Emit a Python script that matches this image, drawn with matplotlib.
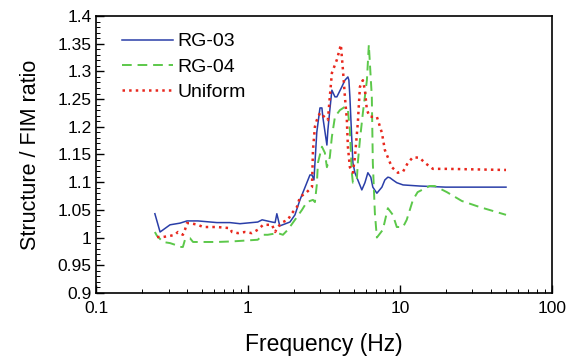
import numpy as np
import matplotlib
matplotlib.use("Agg")
import matplotlib.pyplot as plt
from matplotlib.ticker import MultipleLocator, LogLocator, FixedLocator, FixedFormatter

plt.rcParams['font.family'] = ['Liberation Sans', 'DejaVu Sans']

# RG-03
f_rg03 = [0.244, 0.264, 0.307, 0.357, 0.397, 0.469, 0.625, 0.761, 0.886, 1.06, 1.16, 1.24,
          1.44, 1.51, 1.55, 1.62, 1.89, 2.04, 2.20, 2.37, 2.56, 2.64, 2.72, 2.84, 2.98,
          3.07, 3.11, 3.31, 3.36, 3.46, 3.57, 3.74, 3.85, 4.15, 4.35, 4.55, 4.62, 4.69,
          4.83, 4.91, 5.06, 5.29, 5.62, 5.89, 6.16, 6.44, 6.64, 7.06, 7.62, 7.97, 8.34,
          8.60, 8.99, 9.55, 10.5, 13.5, 20.0, 50.0]
v_rg03 = [1.043, 1.010, 1.023, 1.026, 1.030, 1.030, 1.027, 1.027, 1.025, 1.027, 1.028, 1.032,
          1.028, 1.027, 1.043, 1.021, 1.028, 1.041, 1.068, 1.090, 1.113, 1.113, 1.104, 1.190, 1.234,
          1.234, 1.218, 1.167, 1.194, 1.230, 1.266, 1.254, 1.254, 1.272, 1.284, 1.290, 1.284, 1.254,
          1.176, 1.135, 1.117, 1.104, 1.086, 1.099, 1.117, 1.109, 1.091, 1.080, 1.091, 1.104, 1.109,
          1.108, 1.104, 1.099, 1.095, 1.093, 1.091, 1.091]

# RG-04
f_rg04 = [0.244, 0.252, 0.276, 0.307, 0.331, 0.357, 0.373, 0.385, 0.397, 0.415, 0.435, 0.625,
          0.785, 1.16, 1.26, 1.35, 1.57, 1.70, 1.83, 2.04, 2.27, 2.44, 2.68, 2.76, 2.84,
          2.89, 3.07, 3.21, 3.31, 3.46, 3.57, 3.74, 4.03, 4.35, 4.55, 4.69, 4.83, 4.91,
          5.21, 5.29, 5.46, 5.71, 6.07, 6.25, 6.54, 6.64, 6.85, 7.06, 7.73, 8.34, 8.99,
          9.55, 10.5, 11.1, 12.2, 13.1, 15.7, 17.0, 20.4, 25.6, 33.6, 50.0]
v_rg04 = [1.010, 1.003, 0.992, 0.990, 0.987, 0.983, 0.983, 0.996, 0.999, 0.999, 0.992, 0.992,
          0.993, 0.996, 1.005, 1.005, 1.008, 1.005, 1.014, 1.032, 1.050, 1.064, 1.068, 1.064, 1.095,
          1.135, 1.164, 1.153, 1.127, 1.145, 1.182, 1.218, 1.230, 1.236, 1.230, 1.194, 1.117, 1.099,
          1.104, 1.135, 1.176, 1.225, 1.284, 1.348, 1.254, 1.135, 1.044, 1.000, 1.014, 1.053, 1.041,
          1.019, 1.019, 1.032, 1.068, 1.082, 1.093, 1.093, 1.082, 1.066, 1.055, 1.041]

# Uniform
f_unif = [0.252, 0.276, 0.307, 0.331, 0.346, 0.357, 0.373, 0.385, 0.397, 0.415, 0.469, 0.506,
          0.625, 0.761, 0.785, 0.859, 0.955, 1.06, 1.16, 1.26, 1.44, 1.51, 1.57, 1.70, 1.83,
          1.95, 2.10, 2.20, 2.44, 2.64, 2.68, 2.76, 2.84, 2.98, 3.36, 3.46, 3.57, 3.85, 4.09,
          4.22, 4.35, 4.48, 4.55, 4.69, 4.91, 5.06, 5.29, 5.46, 5.71, 5.89, 6.07, 6.35, 7.06,
          7.62, 7.97, 8.86, 9.70, 10.5, 11.3, 12.2, 13.5, 14.6, 16.5, 20.4, 50.0]
v_unif = [1.001, 1.001, 1.003, 1.005, 1.010, 1.008, 1.005, 1.014, 1.026, 1.026, 1.023, 1.019,
          1.019, 1.017, 1.010, 1.008, 1.010, 1.008, 1.014, 1.023, 1.023, 1.010, 1.019, 1.028, 1.032,
          1.044, 1.055, 1.073, 1.082, 1.091, 1.158, 1.200, 1.212, 1.225, 1.212, 1.254, 1.297, 1.321, 1.348,
          1.303, 1.254, 1.212, 1.164, 1.127, 1.117, 1.145, 1.207, 1.272, 1.284, 1.266, 1.230, 1.218, 1.218,
          1.189, 1.158, 1.127, 1.117, 1.119, 1.135, 1.145, 1.144, 1.135, 1.124, 1.124, 1.122]

y_ticks = [0.9, 0.95, 1.0, 1.05, 1.1, 1.15, 1.2, 1.25, 1.3, 1.35, 1.4]
y_tick_labels = ["0.9", "0.95", "1", "1.05", "1.1", "1.15", "1.2", "1.25", "1.3", "1.35", "1.4"]
x_ticks = [0.1, 1, 10, 100]
x_tick_labels = ["0.1", "1", "10", "100"]

fig = plt.figure(figsize=(5.82, 3.63), dpi=100)
ax = fig.add_axes([0.165, 0.193, 0.783, 0.763])

ax.plot(f_rg03, v_rg03, "-", color="#2a3ea8", lw=1.1, label="RG-03")
ax.plot(f_rg04, v_rg04, "--", color="#5cc84a", lw=1.4, dashes=(5, 3), label="RG-04")
ax.plot(f_unif, v_unif, ":", color="#e8281e", lw=1.8, label="Uniform")

ax.set_xscale("log")
ax.set_xlim(0.1, 100)
ax.set_ylim(0.9, 1.4)

ax.xaxis.set_major_locator(FixedLocator(x_ticks))
ax.xaxis.set_major_formatter(FixedFormatter(x_tick_labels))
ax.xaxis.set_minor_locator(LogLocator(base=10, subs=np.arange(2, 10)))
ax.xaxis.set_minor_formatter(plt.NullFormatter())
ax.yaxis.set_major_locator(FixedLocator(y_ticks))
ax.yaxis.set_major_formatter(FixedFormatter(y_tick_labels))
ax.yaxis.set_minor_locator(MultipleLocator(0.01))

ax.tick_params(which='major', direction='in', length=6, width=1.0, labelsize=12.5,
               top=False, right=False)
ax.tick_params(which='minor', direction='in', length=3, width=0.7, top=False, right=False)
ax.tick_params(axis='x', pad=6)
ax.tick_params(axis='y', pad=3)
for s in ax.spines.values():
    s.set_linewidth(1.2)

ax.set_xlabel("Frequency (Hz)", fontsize=16.5, labelpad=12)
ax.set_ylabel("Structure / FIM ratio", fontsize=15.5, labelpad=12)

ax.legend(loc="upper left", bbox_to_anchor=(0.03, 0.985), frameon=False, fontsize=14,
          handlelength=2.6, handletextpad=0.25, labelspacing=0.4, borderaxespad=0.35,
          borderpad=0.3)

fig.savefig("out.png", dpi=100)
